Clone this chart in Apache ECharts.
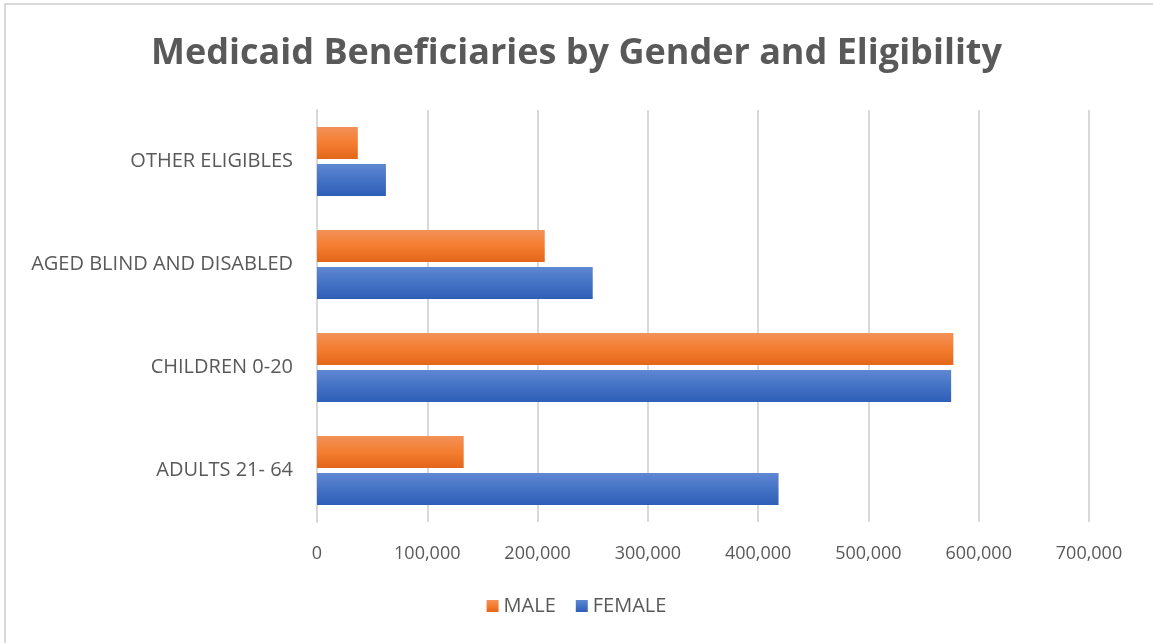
<!DOCTYPE html>
<html>
<head>
<meta charset="utf-8">
<script src="https://cdn.jsdelivr.net/npm/echarts@6/dist/echarts.min.js"></script>
<style>
  html, body { margin: 0; padding: 0; background: #fff; }
  #chart { width: 1153px; height: 643px; }
</style>
</head>
<body>
<div id="chart"></div>
<script>
var categories = ['ADULTS 21- 64', 'CHILDREN 0-20', 'AGED BLIND AND DISABLED', 'OTHER ELIGIBLES'];
var femaleValues = [418500, 575000, 250000, 62500];
var maleValues = [133000, 577000, 206500, 37000];

var chartDom = document.getElementById('chart');
var myChart = echarts.init(chartDom);

// vertical gradient used by Excel's default 3d-ish bar style
function grad(top, mid, bottom) {
  return new echarts.graphic.LinearGradient(0, 0, 0, 1, [
    { offset: 0, color: top },
    { offset: 0.5, color: mid },
    { offset: 1, color: bottom }
  ]);
}

var barShadow = {
  shadowBlur: 6,
  shadowOffsetX: 2,
  shadowOffsetY: 3,
  shadowColor: 'rgba(0,0,0,0.35)'
};

var option = {
  backgroundColor: '#fff',
  textStyle: { fontFamily: 'Open Sans, sans-serif' },
  title: {
    text: 'Medicaid Beneficiaries by Gender and Eligibility',
    left: 'center',
    top: 31,
    textStyle: { fontSize: 36, fontWeight: 'bold', color: '#595959', fontFamily: 'Open Sans, sans-serif' }
  },
  graphic: [{
    type: 'rect',
    shape: { x: 5, y: 4, width: 1200, height: 700 },
    style: { fill: 'none', stroke: '#d9d9d9', lineWidth: 2 },
    silent: true
  }],
  legend: {
    data: ['MALE', 'FEMALE'],
    bottom: 22,
    left: 'center',
    itemWidth: 12,
    itemHeight: 12,
    itemGap: 20,
    icon: 'rect',
    textStyle: { fontSize: 20, color: '#595959' }
  },
  grid: { left: 317, right: 64, top: 110, bottom: 121 },
  xAxis: {
    type: 'value',
    min: 0,
    max: 700000,
    interval: 100000,
    axisLine: { show: false },
    axisTick: { show: false },
    splitLine: { lineStyle: { color: '#d9d9d9', width: 2 } },
    axisLabel: {
      fontSize: 18,
      color: '#595959',
      margin: 23,
      formatter: function (v) { return v.toLocaleString('en-US'); }
    }
  },
  yAxis: {
    type: 'category',
    data: categories,
    axisLine: { lineStyle: { color: '#d9d9d9', width: 2 } },
    axisTick: { show: false },
    axisLabel: { fontSize: 20, color: '#595959', margin: 24 }
  },
  series: [
    {
      name: 'MALE',
      type: 'bar',
      data: maleValues,
      barGap: '15%',
      barCategoryGap: '33%',
      itemStyle: Object.assign({ color: grad('#f29158', '#f47d30', '#e3661a') }, barShadow)
    },
    {
      name: 'FEMALE',
      type: 'bar',
      data: femaleValues,
      barGap: '15%',
      barCategoryGap: '33%',
      itemStyle: Object.assign({ color: grad('#6088d3', '#4472c4', '#2f5eb8') }, barShadow)
    }
  ]
};

myChart.setOption(option);
</script>
</body>
</html>
